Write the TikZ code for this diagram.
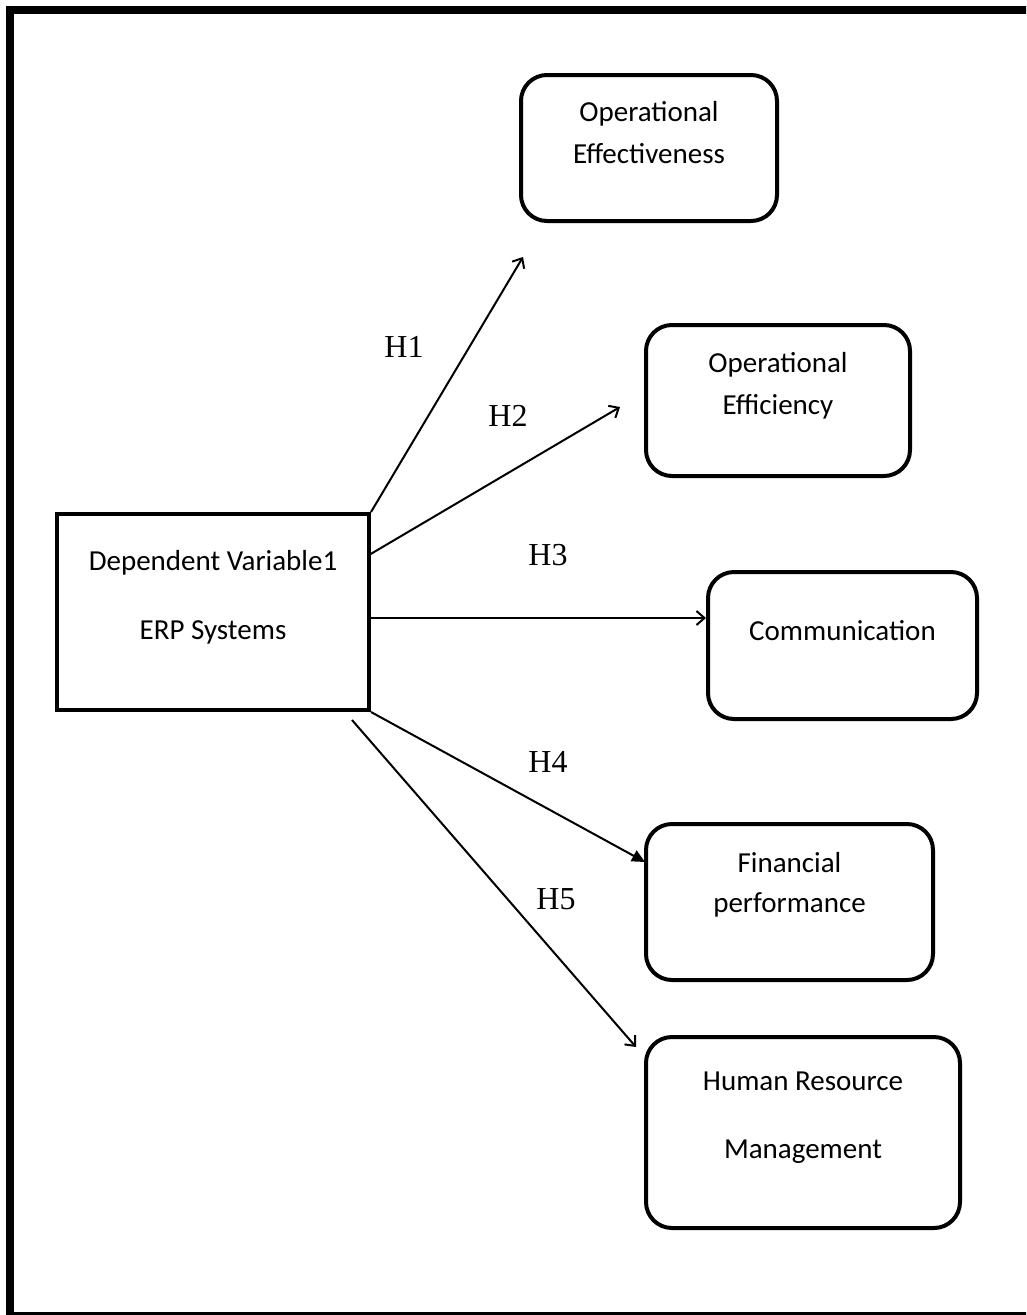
\documentclass[tikz,border=0pt]{standalone}
\usepackage{fontspec}
\setmainfont{Carlito}
\newfontfamily\hfont{Liberation Serif}
\usetikzlibrary{arrows.meta}

\begin{document}
\begin{tikzpicture}[x=1pt,y=-1pt,
    mainbox/.style={draw, line width=4pt, inner sep=0pt},
    roundbox/.style={draw, line width=4pt, rounded corners=26pt, inner sep=0pt},
    boxtext/.style={align=center, inner sep=0pt, font=\fontsize{29}{42}\selectfont},
    hlabel/.style={inner sep=0pt, font=\hfont\fontsize{32}{36}\selectfont},
    link/.style={line width=2pt, -{Straight Barb[length=8pt,width=14pt,line width=2pt]}},
    linkfilled/.style={line width=2pt, -{Triangle[length=13pt,width=12pt]}}]

    \useasboundingbox (0,0) rectangle (1026,1315);
    \clip (0,0) rectangle (1026,1315);
    \draw [line width=8pt](1040,10) -- (10,10) -- (10,1316) -- (1040,1316);

    \node [mainbox, minimum width=312pt, minimum height=196pt](erp) at (213,612) {};
    \node [boxtext](erptxt) at ([yshift=15pt]erp.center) {Dependent Variable1\\[27pt]ERP Systems};

    \node [roundbox, minimum width=256pt, minimum height=146pt](oe) at (649,148) {};
    \node [boxtext](oetxt) at ([yshift=15pt]oe.center) {Operational\\Effectiveness};
    \node [roundbox, minimum width=264pt, minimum height=151pt](oef) at (778,400.5) {};
    \node [boxtext](oeftxt) at ([yshift=15pt]oef.center) {Operational\\Efficiency};
    \node [roundbox, minimum width=269pt, minimum height=147pt](comm) at (842.5,645.5) {};
    \node [boxtext](commtxt) at ([yshift=15pt]comm.center) {Communication};
    \node [roundbox, minimum width=287pt, minimum height=156pt](fin) at (789.5,902) {};
    \node [boxtext](fintxt) at ([yshift=17pt]fin.center) {Financial\\[-2pt]performance};
    \node [roundbox, minimum width=314pt, minimum height=191pt](hrm) at (803,1132.5) {};
    \node [boxtext](hrmtxt) at ([yshift=15pt]hrm.center) {Human Resource\\[26pt]Management};

    \coordinate (h2s) at (369,555);
    \coordinate (h3s) at (369,618);
    \coordinate (h5s) at (352,720);
    \coordinate (h1e) at (523,257);
    \coordinate (h2e) at (620,407);
    \coordinate (h3e) at (comm.west |- h3s);
    \coordinate (h4e) at (645,862);
    \coordinate (h5e) at (636,1047);

    \draw [link](erp.north east) -- (h1e);
    \draw [link](h2s) -- (h2e);
    \draw [link](h3s) -- (h3e);
    \draw [linkfilled](erp.south east) -- (h4e);
    \draw [link](h5s) -- (h5e);

    \node [hlabel](h1) at (404,347) {H1};
    \node [hlabel](h2) at (508,416) {H2};
    \node [hlabel](h3) at (548,555) {H3};
    \node [hlabel](h4) at (548,762) {H4};
    \node [hlabel](h5) at (556,899) {H5};

\end{tikzpicture}
\end{document}
